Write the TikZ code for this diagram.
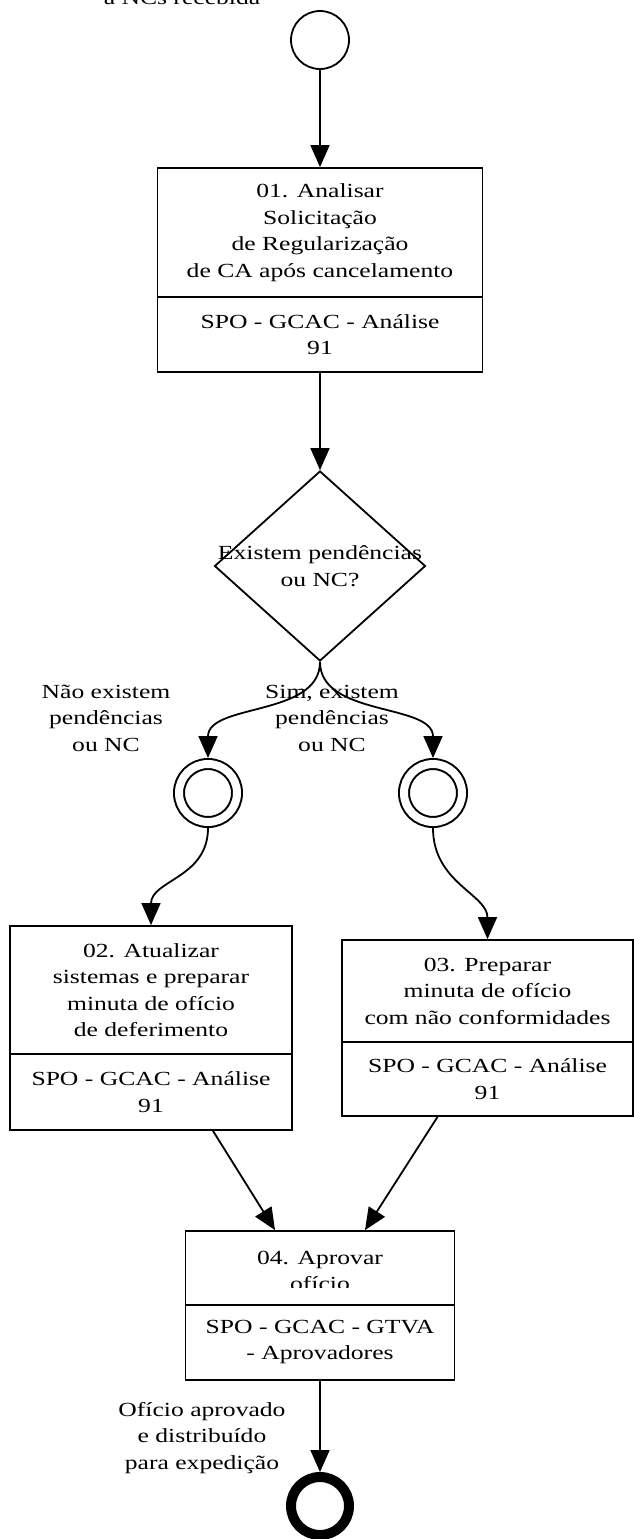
\documentclass[tikz,border=0pt]{standalone}
\usepackage{fontspec}
\setmainfont{Liberation Serif}[FakeStretch=1.28]
\usetikzlibrary{arrows.meta,shapes.geometric,calc}
\begin{document}
\begin{tikzpicture}[x=1pt,y=-1pt,
  txt/.style={font=\fontsize{20pt}{26.5pt}\selectfont, align=center, inner sep=0pt},
  box/.style={draw, line width=1.8pt, rectangle, inner sep=0pt},
  conn/.style={line width=1.8pt, -{Triangle[length=22pt,width=19pt]}},
  startev/.style={circle, draw, line width=1.8pt, minimum size=58pt, inner sep=0pt},
  midev/.style={circle, draw, line width=2pt, double, double distance=8pt, minimum size=58pt, inner sep=0pt, outer sep=6pt},
  endev/.style={circle, draw, line width=10pt, minimum size=58pt, inner sep=0pt},
  divider/.style={line width=1.8pt}
  ]
\useasboundingbox[fill=white] (0,0) rectangle (634,1539);

% start
\node[txt, anchor=base] (lbl0) at (182,5) {a NCs recebida};
\node[startev] (st) at (320,40) {};

% box 1
\node[box, minimum width=325pt, minimum height=204pt] (b1) at (320,270) {};
\draw[divider] (b1.west |- 0,297) -- (b1.east |- 0,297);
\node[txt] (b1t) at (320,232.5) {01. Analisar\\Solicitação\\de Regularização\\de CA após cancelamento};
\node[txt] (b1b) at (320,334.5) {SPO - GCAC - Análise\\91};

% decision
\node[diamond, draw, line width=1.8pt, minimum width=211pt, minimum height=190pt, inner sep=0pt] (dia) at (320,566) {};
\node[txt] (diat) at (320,566) {Existem pendências\\ou NC?};

% labels
\node[txt] (lblno) at (106,718) {Não existem\\pendências\\ou NC};
\node[txt] (lblyes) at (332,718) {Sim, existem\\pendências\\ou NC};

% intermediate events
\node[midev] (c1) at (208,793) {};
\node[midev] (c2) at (433,793) {};

% box 2
\node[box, minimum width=282pt, minimum height=204pt] (b2) at (151,1028) {};
\draw[divider] (b2.west |- 0,1054) -- (b2.east |- 0,1054);
\node[txt] (b2t) at (151,990) {02. Atualizar\\sistemas e preparar\\minuta de ofício\\de deferimento};
\node[txt] (b2b) at (151,1092) {SPO - GCAC - Análise\\91};

% box 3
\node[box, minimum width=291pt, minimum height=176pt] (b3) at (487.5,1028) {};
\draw[divider] (b3.west |- 0,1042) -- (b3.east |- 0,1042);
\node[txt] (b3t) at (487.5,991) {03. Preparar\\minuta de ofício\\com não conformidades};
\node[txt] (b3b) at (487.5,1079) {SPO - GCAC - Análise\\91};

% box 4
\node[box, minimum width=269pt, minimum height=149pt] (b4) at (320,1305.5) {};
\draw[divider] (b4.west |- 0,1305) -- (b4.east |- 0,1305);
\begin{scope}
  \clip (186,1231) rectangle (455,1287);
  \node[txt] (b4t) at (320,1271) {04. Aprovar\\ofício};
\end{scope}
\node[txt] (b4b) at (320,1342) {SPO - GCAC - GTVA\\- Aprovadores};

% end
\node[endev] (en) at (320,1506) {};
\node[txt] (lblend) at (202,1438) {Ofício aprovado\\e distribuído\\para expedição};

% connectors
\draw[conn] (st.south) -- (b1.north);
\draw[conn] (b1.south) -- (dia.north);
\draw[conn] (dia.south) .. controls +(0,55) and +(0,-55) .. (c1.north);
\draw[conn] (dia.south) .. controls +(0,55) and +(0,-55) .. (c2.north);
\draw[conn] (c1.south) .. controls +(0,50) and +(0,-45) .. (b2.north);
\draw[conn] (c2.south) .. controls +(0,55) and +(0,-45) .. (b3.north);
\draw[conn] ($(b2.south)+(62,0)$) -- ($(b4.north)+(-45,0)$);
\draw[conn] ($(b3.south)+(-50,0)$) -- ($(b4.north)+(45,0)$);
\draw[conn] (b4.south) -- (en.north);
\end{tikzpicture}
\end{document}
